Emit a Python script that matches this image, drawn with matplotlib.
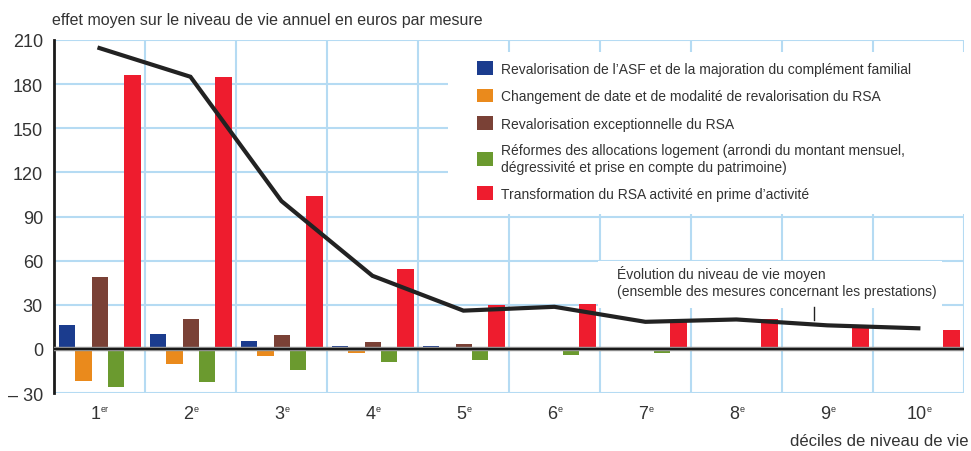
import matplotlib
matplotlib.use('Agg')
import numpy as np
import matplotlib.pyplot as plt
from matplotlib.patches import Rectangle

plt.rcParams['font.family'] = ['Liberation Sans', 'DejaVu Sans']

decile_num = ['1', '2', '3', '4', '5', '6', '7', '8', '9', '10']
decile_sup = ['er', 'e', 'e', 'e', 'e', 'e', 'e', 'e', 'e', 'e']

asf = [16.3, 10.2, 5.4, 2.0, 2.0, 0.4, 0.4, 0.2, 0.1, 0.1]
date_rsa = [-21.8, -10.0, -4.5, -2.5, -1.0, -0.3, -0.6, -0.2, -0.1, 0.0]
rsa_excep = [49.0, 20.4, 9.5, 4.8, 3.0, 1.5, 1.5, 1.5, 0.6, 0.5]
logement = [-25.8, -22.4, -14.3, -8.8, -7.5, -4.0, -2.6, -0.8, -0.7, 0.0]
prime = [186.4, 185.0, 104.0, 54.4, 30.0, 30.6, 19.0, 20.0, 16.0, 13.0]
niveau_vie = [204.5, 185.0, 100.5, 49.7, 26.0, 28.6, 18.4, 20.0, 16.0, 14.0]

labels = ["Revalorisation de l\u2019ASF et de la majoration du complément familial",
          "Changement de date et de modalité de revalorisation du RSA",
          "Revalorisation exceptionnelle du RSA",
          "Réformes des allocations logement (arrondi du montant mensuel,\ndégressivité et prise en compte du patrimoine)",
          "Transformation du RSA activité en prime d\u2019activité"]
colors = ['#1b3c8e', '#ea8a1c', '#7a4136', '#6b9a2f', '#ee1c2e']

fig = plt.figure(figsize=(9.71, 4.52), dpi=100)
ax = fig.add_axes([0.0556, 0.1283, 0.937, 0.781])

X = np.arange(10) + 0.505
w = 0.18
series = [asf, date_rsa, rsa_excep, logement, prime]
handles = []
for k, (vals, c) in enumerate(zip(series, colors)):
    b = ax.bar(X + (k - 2) * w, vals, width=w, color=c, zorder=3)
    handles.append(b)

ax.plot(np.arange(10) + 0.5, niveau_vie, color='#222222', lw=3, zorder=5, solid_joinstyle='miter')
ax.axhline(0, color='#999999', lw=3.2, zorder=4)
ax.axhline(0, color='#1a1a1a', lw=1.6, zorder=4)

ax.set_xlim(0, 10)
ax.set_ylim(-30, 210)
ax.set_yticks(np.arange(-30, 211, 30))
ax.set_yticklabels(['\u2013 30', '0', '30', '60', '90', '120', '150', '180', '210'], fontsize=13)
ax.set_xticks(np.arange(10) + 0.5)
ax.set_xticklabels([])
ax.tick_params(axis='both', length=0, colors='#333333')
ax.tick_params(axis='y', pad=8)

# libelles des deciles avec exposant
for i, (n, s) in enumerate(zip(decile_num, decile_sup)):
    wd = 7.2 * len(n)
    ws = 2.9 * len(s)
    left = -(wd + ws) / 2
    ax.annotate(n, xy=(i + 0.5, 0), xycoords=('data', 'axes fraction'), xytext=(left, -15),
                textcoords='offset points', ha='left', va='center', fontsize=13, color='#333333')
    ax.annotate(s, xy=(i + 0.5, 0), xycoords=('data', 'axes fraction'), xytext=(left + wd + 0.3, -11),
                textcoords='offset points', ha='left', va='center', fontsize=6.5, color='#333333')

for v in np.arange(1, 11):
    ax.axvline(v, color='#b5dbf3', lw=1.5, zorder=1)
for h in np.arange(-30, 211, 30):
    ax.axhline(h, color='#b5dbf3', lw=1.5, zorder=1)

for s in ['top', 'right', 'bottom']:
    ax.spines[s].set_visible(False)
ax.spines['left'].set_color('#1a1a1a')
ax.spines['left'].set_linewidth(2)

# fond blanc de la legende
ax.add_patch(Rectangle((0.433, 0.506), 0.575, 0.46, transform=ax.transAxes, facecolor='white',
                       edgecolor='none', zorder=6, clip_on=False))
leg = ax.legend(handles, labels, loc='upper left', bbox_to_anchor=(0.465, 0.94), fontsize=10,
                frameon=False, handlelength=1.15, handleheight=1.15, labelspacing=0.92,
                borderpad=0, handletextpad=0.6, borderaxespad=0)
leg.set_zorder(7)
for t in leg.get_texts():
    t.set_color('#333333')

# encadre de la courbe
ax.add_patch(Rectangle((5.98, 27.5), 3.78, 32.5, facecolor='white', edgecolor='none', zorder=6))
ax.text(6.19, 57, '\u00c9volution du niveau de vie moyen\n(ensemble des mesures concernant les prestations)',
        fontsize=10, color='#333333', va='top', ha='left', linespacing=1.3, zorder=7)
ax.plot([8.35, 8.35], [28.5, 19.5], color='#222222', lw=1, zorder=7)

fig.text(0.0536, 0.955, 'effet moyen sur le niveau de vie annuel en euros par mesure',
         fontsize=11.5, color='#333333', ha='left', va='center')
fig.text(0.997, 0.006, 'déciles de niveau de vie', fontsize=12, color='#333333', ha='right', va='bottom')

fig.savefig('out.png', dpi=100)
